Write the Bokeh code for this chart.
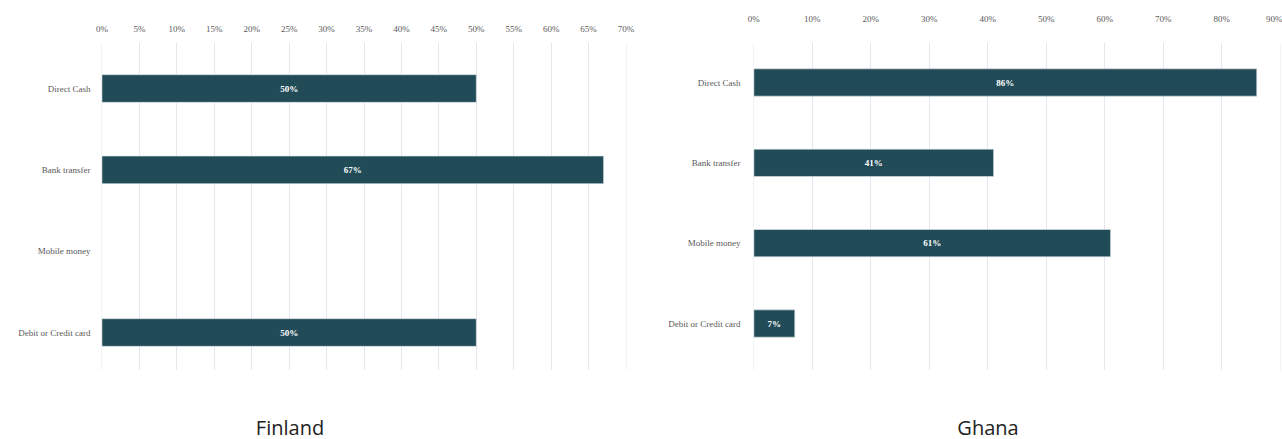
from bokeh.plotting import figure
from bokeh.layouts import row, column
from bokeh.models import ColumnDataSource, Range1d, FixedTicker, SingleIntervalTicker, PrintfTickFormatter, LabelSet, Div
from bokeh.embed import file_html
from bokeh.resources import INLINE

categories = ["Direct Cash", "Bank transfer", "Mobile money", "Debit or Credit card"]
finland_values = [50, 67, None, 50]
ghana_values = [86, 41, 61, 7]

BAR = "#224B58"
SERIF = "Liberation Serif"


def make(name, values, xmax, step, width, height, bl, br, bt, bb, ytop, ybot, ystand, xstand, tx):
    idx = [i for i, v in enumerate(values) if v is not None]
    vals = [values[i] for i in idx]
    src = ColumnDataSource(dict(pos=idx, val=vals, mid=[v / 2 for v in vals],
                                lab=[f"{v}%" for v in vals]))
    p = figure(width=width, height=height, output_backend="svg", toolbar_location=None,
               y_range=Range1d(ybot, ytop), x_range=Range1d(-0.06, xmax + 0.06),
               x_axis_location="above", min_border_left=bl, min_border_right=br,
               min_border_top=bt, min_border_bottom=bb)
    p.hbar(y="pos", right="val", left=0, height=0.34, source=src, color=BAR, line_color="#dfe6ea", line_width=0.6)
    labels = LabelSet(x="mid", y="pos", text="lab", source=src, text_align="center",
                      text_baseline="middle", text_color="white", text_font=SERIF,
                      text_font_size="9px", text_font_style="bold")
    p.add_layout(labels)
    p.outline_line_color = None
    p.ygrid.grid_line_color = None
    p.xgrid.grid_line_color = "#e6e7ee"
    p.xaxis.ticker = SingleIntervalTicker(interval=step)
    p.xaxis.formatter = PrintfTickFormatter(format="%d%%")
    p.yaxis.ticker = FixedTicker(ticks=list(range(len(categories))))
    p.yaxis.major_label_overrides = {i: c for i, c in enumerate(categories)}
    for ax in (p.xaxis, p.yaxis):
        ax.axis_line_color = None
        ax.major_tick_line_color = None
        ax.minor_tick_line_color = None
        ax.major_tick_out = 0
        ax.major_tick_in = 0
        ax.major_label_text_font = SERIF
        ax.major_label_text_font_size = "9px"
        ax.major_label_text_color = "#595959"
    p.yaxis.major_label_standoff = ystand
    p.xaxis.major_label_standoff = xstand
    d = Div(text=(f'<div style="position:relative;width:{width}px;height:39px;">'
                  f'<span style="position:absolute;left:{tx}px;top:28px;transform:translate(-50%,-50%);'
                  f'font-family:\'Open Sans\';font-size:20px;color:#222222;white-space:nowrap;">{name}</span></div>'),
            width=width, height=39, margin=0)
    return column(p, d, spacing=0)


c1 = make("Finland", finland_values, 70, 5, 641, 400, 101, 15, 42, 30, -0.566, 3.467, 11, 5, 290)
c2 = make("Ghana", ghana_values, 90, 10, 641, 400, 112, 2, 42, 30, -0.498, 3.585, 13, 15, 347)

layout = row(c1, c2, spacing=0)
open("out.html", "w").write(file_html(layout, INLINE))
